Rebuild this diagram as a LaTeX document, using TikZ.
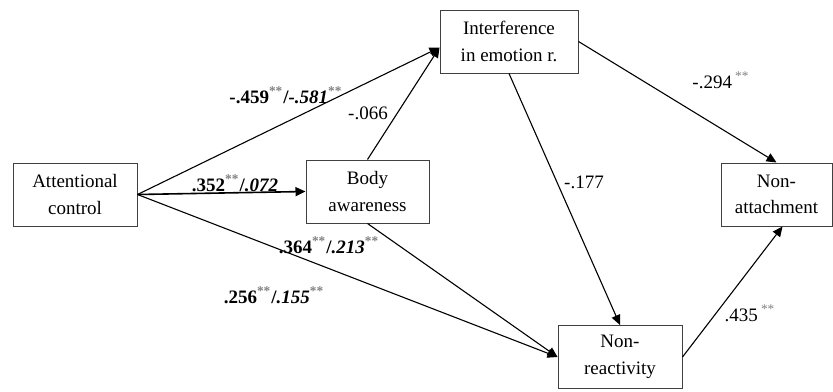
\documentclass[tikz,border=0pt]{standalone}
\usepackage{fontspec}
\setmainfont{Liberation Serif}
\usetikzlibrary{arrows.meta}
\newcommand{\stars}{\textsuperscript{\textcolor{gray}{**}}}
\begin{document}
\fontsize{9.5}{13.3}\selectfont
\begin{tikzpicture}[x=0.5pt,y=-0.5pt,
  box/.style={draw=black!75,line width=0.5pt,minimum height=31.5pt,align=center,inner sep=2pt},
  path/.style={line width=0.55pt,-{Triangle[length=5pt,width=4.5pt]}}]
  \useasboundingbox (0,0) rectangle (833,391);
  % boxes
  \node[box,minimum width=62pt] (ac) at (75,194.5) {Attentional\\control};
  \node[box,minimum width=61.5pt] (body) at (367.5,191.5) {Body\\awareness};
  \node[box,minimum width=69pt] (intf) at (509,41.5) {Interference\\in emotion r.};
  \node[box,minimum width=55.5pt] (na) at (776.5,194.5) {Non-\\attachment};
  \node[box,minimum width=62pt] (nr) at (620,357) {Non-\\reactivity};
  % paths
  \draw[path,line width=0.8pt] (ac.east)--(body.west);
  \draw[path] (ac.east)--([yshift=-3pt]intf.west);
  \draw[path] (body.north)--([yshift=-3pt]intf.west);
  \draw[path] (ac.east)--(nr.west);
  \draw[path] (body.south)--(nr.west);
  \draw[path] (intf.south)--(nr.north);
  \draw[path] (intf.east)--(na.north);
  \draw[path] (nr.east)--([xshift=3pt]na.south);
  % coefficients
  \node (l1) at (235,183) {\textbf{.352\stars/\textit{.072}}};
  \node (l2) at (286,95) {\textbf{-.459\stars/\textit{-.581}\stars}};
  \node (l3) at (368,113) {-.066};
  \node (l4) at (329,245) {\textbf{.364\stars/\textit{.213}\stars}};
  \node (l5) at (274,295) {\textbf{.256\stars/\textit{.155}\stars}};
  \node (l6) at (584,182) {-.177};
  \node (l7) at (721,80) {-.294\,\stars};
  \node (l8) at (750,313) {.435\,\stars};
\end{tikzpicture}
\end{document}
